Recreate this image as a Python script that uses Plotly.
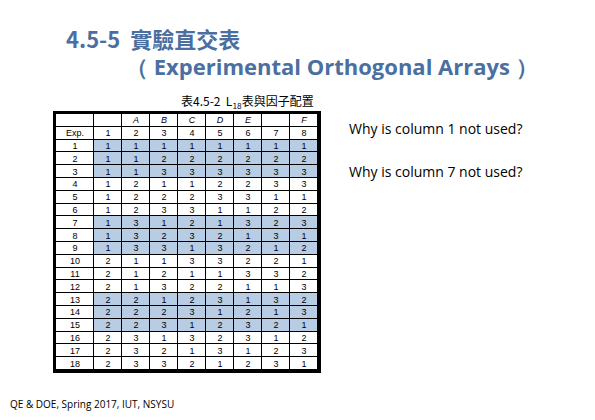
import plotly.graph_objects as go

factors = ["", "A", "B", "C", "D", "E", "", "F"]
columns = ["1", "2", "3", "4", "5", "6", "7", "8"]
exp = list(range(1, 19))
l18 = [
    [1, 1, 1, 1, 1, 1, 1, 1],
    [1, 1, 2, 2, 2, 2, 2, 2],
    [1, 1, 3, 3, 3, 3, 3, 3],
    [1, 2, 1, 1, 2, 2, 3, 3],
    [1, 2, 2, 2, 3, 3, 1, 1],
    [1, 2, 3, 3, 1, 1, 2, 2],
    [1, 3, 1, 2, 1, 3, 2, 3],
    [1, 3, 2, 3, 2, 1, 3, 1],
    [1, 3, 3, 1, 3, 2, 1, 2],
    [2, 1, 1, 3, 3, 2, 2, 1],
    [2, 1, 2, 1, 1, 3, 3, 2],
    [2, 1, 3, 2, 2, 1, 1, 3],
    [2, 2, 1, 2, 3, 1, 3, 2],
    [2, 2, 2, 3, 1, 2, 1, 3],
    [2, 2, 3, 1, 2, 3, 2, 1],
    [2, 3, 1, 3, 2, 3, 1, 2],
    [2, 3, 2, 1, 3, 1, 2, 3],
    [2, 3, 3, 2, 1, 2, 3, 1],
]
shaded = [1, 2, 3, 7, 8, 9, 13, 14, 15]

# table as a heatmap: rows 0-1 header, then 18 runs
text = [[""] + ["<i>%s</i>" % f for f in factors], ["Exp."] + columns]
z = [[0] * 9, [0] * 9]
for e, r in zip(exp, l18):
    text.append([str(e)] + [str(v) for v in r])
    s = 1 if e in shaded else 0
    z.append([0] + [s] * 8)

widths = [38] + [28] * 8
edges = [0]
for w in widths:
    edges.append(edges[-1] + w)

W, H, off = 595, 420, 6  # page body margin pushes everything a bit


def px(x):
    return max(0, (x - off) / W)


def py(y):
    return 1 - (y - off) / H


fig = go.Figure(go.Heatmap(
    z=z, x=edges, y=list(range(20)), text=text, texttemplate="%{text}",
    textfont=dict(family="Liberation Sans", size=9, color="black"),
    colorscale=[[0, "white"], [1, "#b8cce4"]], zmin=0, zmax=1,
    showscale=False, xgap=1, ygap=1, hoverinfo="skip",
))

fig.update_xaxes(domain=[px(54), px(316)], range=[edges[0], edges[-1]],
                 showticklabels=False, ticks="", showgrid=False, zeroline=False,
                 showline=True, mirror=True, linecolor="black", linewidth=3)
fig.update_yaxes(domain=[py(368), py(112)], range=[19.5, -0.5],
                 showticklabels=False, ticks="", showgrid=False, zeroline=False,
                 showline=True, mirror=True, linecolor="black", linewidth=3)

title_col = "#4a6fa0"
fig.add_annotation(x=px(62), y=py(36), xref="paper", yref="paper", xanchor="left",
                   yanchor="middle", text="<b>4.5-5  實驗直交表</b>", showarrow=False,
                   font=dict(family="Noto Sans CJK TC", size=22, color=title_col))
fig.add_annotation(x=px(122), y=py(64), xref="paper", yref="paper", xanchor="left",
                   yanchor="middle", text="<b>（ Experimental Orthogonal Arrays ）</b>", showarrow=False,
                   font=dict(family="Open Sans", size=22, color=title_col))
fig.add_annotation(x=px(177), y=py(100), xref="paper", yref="paper",
                   yanchor="middle", text="表4.5-2  L<sub>18</sub>表與因子配置", showarrow=False,
                   font=dict(family="Noto Sans CJK TC", size=12, color="black"))
fig.add_annotation(x=px(345), y=py(127), xref="paper", yref="paper", xanchor="left",
                   yanchor="middle", text="Why is column 1 not used?", showarrow=False,
                   font=dict(family="Open Sans", size=14, color="black"))
fig.add_annotation(x=px(345), y=py(170), xref="paper", yref="paper", xanchor="left",
                   yanchor="middle", text="Why is column 7 not used?", showarrow=False,
                   font=dict(family="Open Sans", size=14, color="black"))
fig.add_annotation(x=0, y=py(402), xref="paper", yref="paper", xanchor="left",
                   yanchor="middle", text="QE & DOE, Spring 2017, IUT, NSYSU", showarrow=False,
                   font=dict(family="Open Sans", size=10, color="black"))

fig.update_layout(width=W, height=H, margin=dict(l=0, r=0, t=0, b=0),
                  paper_bgcolor="white", plot_bgcolor="black")
fig.write_html("out.html")
